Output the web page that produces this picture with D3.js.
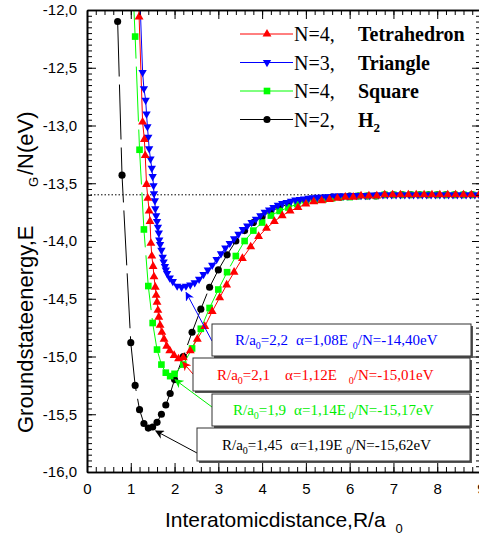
<!DOCTYPE html>
<html>
<head>
<meta charset="utf-8">
<script src="https://cdn.jsdelivr.net/npm/d3@7"></script>
<style>
  html, body { margin: 0; padding: 0; background: #fff; overflow: hidden; }
  svg { display: block; }
</style>
</head>
<body>
<svg id="chart" width="479" height="536"></svg>
<script>
// N=2, H2  [R/a0, E/N eV]
const h2Data = [
  [0.7,-12.10],[0.8,-13.43],[1.0,-14.88],[1.1,-15.25],[1.2,-15.46],[1.3,-15.58],[1.4,-15.62],
  [1.5,-15.61],[1.6,-15.57],[1.7,-15.50],[1.8,-15.42],[1.9,-15.32],[2.0,-15.20],[2.2,-15.00],
  [2.4,-14.79],[2.6,-14.59],[2.8,-14.40],[3.0,-14.25],[3.2,-14.12],[3.4,-14.00],[3.6,-13.91],
  [3.8,-13.84],[4.0,-13.79],[4.2,-13.74],[4.4,-13.71],[4.6,-13.68],[4.8,-13.66],[5.0,-13.65],
  [5.2,-13.64],[5.4,-13.63],[5.6,-13.62],[5.8,-13.62],[6.0,-13.61],[6.2,-13.61],[6.4,-13.61],
  [6.6,-13.61],[6.8,-13.60],[7.0,-13.60],[7.2,-13.60],[7.4,-13.60],[7.6,-13.60],[7.8,-13.60],
  [8.0,-13.60],[8.2,-13.60],[8.4,-13.60],[8.6,-13.60],[8.8,-13.60],[9.0,-13.60]
];

// N=4, Square
const squareData = [
  [1.0,-11.40],[1.1,-12.23],[1.2,-13.21],[1.3,-13.90],[1.4,-14.39],[1.5,-14.71],[1.6,-14.94],
  [1.7,-15.07],[1.8,-15.14],[1.9,-15.17],[2.0,-15.15],[2.2,-15.07],[2.4,-14.93],[2.6,-14.76],
  [2.8,-14.58],[3.0,-14.42],[3.2,-14.27],[3.4,-14.13],[3.6,-14.00],[3.8,-13.91],[4.0,-13.84],
  [4.2,-13.78],[4.4,-13.74],[4.6,-13.71],[4.8,-13.68],[5.0,-13.66],[5.2,-13.65],[5.4,-13.64],
  [5.6,-13.63],[5.8,-13.62],[6.0,-13.62],[6.2,-13.61],[6.4,-13.61],[6.6,-13.61],[6.8,-13.60],
  [7.0,-13.60],[7.2,-13.60],[7.4,-13.60],[7.6,-13.60],[7.8,-13.60],[8.0,-13.60],[8.2,-13.60],
  [8.4,-13.60],[8.6,-13.60],[8.8,-13.60],[9.0,-13.60]
];

// N=3, Triangle
const triangleData = [
  [1.20,-11.80],[1.27,-12.54],[1.30,-12.68],[1.34,-12.78],[1.36,-12.90],[1.38,-13.01],[1.40,-13.10],
  [1.42,-13.20],[1.45,-13.29],[1.48,-13.37],[1.50,-13.44],[1.52,-13.52],[1.53,-13.59],[1.55,-13.65],
  [1.56,-13.72],[1.58,-13.78],[1.60,-13.83],[1.62,-13.88],[1.64,-13.93],[1.65,-13.99],[1.67,-14.03],
  [1.70,-14.08],[1.73,-14.14],[1.75,-14.18],[1.78,-14.22],[1.80,-14.25],[1.83,-14.28],[1.89,-14.32],
  [1.96,-14.35],[2.06,-14.39],[2.16,-14.40],[2.26,-14.39],[2.36,-14.38],[2.46,-14.36],[2.56,-14.33],
  [2.66,-14.29],[2.76,-14.25],[2.86,-14.21],[2.96,-14.16],[3.06,-14.11],[3.16,-14.06],[3.26,-14.02],
  [3.36,-13.98],[3.46,-13.94],[3.56,-13.90],[3.66,-13.87],[3.76,-13.84],[3.86,-13.81],[3.96,-13.78],
  [4.06,-13.75],[4.16,-13.73],[4.26,-13.71],[4.36,-13.69],[4.46,-13.675],[4.56,-13.665],[4.66,-13.655],
  [4.76,-13.645],[4.86,-13.64],[4.96,-13.635],[5.06,-13.63],[5.16,-13.625],[5.26,-13.62],[5.36,-13.62],
  [5.46,-13.615],[5.56,-13.615],[5.66,-13.61],[5.76,-13.61],[5.86,-13.61],[5.96,-13.61],[6.06,-13.605],
  [6.16,-13.605],[6.26,-13.605],[6.36,-13.605],[6.46,-13.605],[6.56,-13.60],[6.66,-13.60],[6.76,-13.60],
  [6.86,-13.60],[6.96,-13.60],[7.06,-13.60],[7.16,-13.60],[7.26,-13.60],[7.36,-13.60],[7.46,-13.60],
  [7.56,-13.60],[7.66,-13.60],[7.76,-13.60],[7.86,-13.60],[7.96,-13.60],[8.06,-13.60],[8.16,-13.60],
  [8.26,-13.60],[8.36,-13.60],[8.46,-13.60],[8.56,-13.60],[8.66,-13.60],[8.76,-13.60],[8.86,-13.60],
  [8.96,-13.60]
];

// N=4, Tetrahedron
const tetraData = [
  [1.15,-11.50],[1.19,-12.06],[1.27,-12.97],[1.31,-13.12],[1.33,-13.26],[1.36,-13.51],[1.39,-13.63],
  [1.42,-13.74],[1.44,-13.83],[1.46,-14.02],[1.48,-14.13],[1.51,-14.22],[1.53,-14.31],[1.56,-14.40],
  [1.58,-14.47],[1.60,-14.53],[1.62,-14.60],[1.64,-14.66],[1.67,-14.73],[1.71,-14.79],[1.76,-14.85],
  [1.82,-14.91],[1.89,-14.95],[1.99,-14.99],[2.09,-15.02],[2.20,-15.01],[2.36,-14.95],[2.52,-14.85],
  [2.69,-14.74],[2.86,-14.61],[3.03,-14.49],[3.19,-14.38],[3.36,-14.27],[3.55,-14.15],[3.74,-14.05],
  [3.92,-13.96],[4.10,-13.89],[4.28,-13.83],[4.46,-13.78],[4.64,-13.74],[4.82,-13.71],[5.00,-13.68],
  [5.18,-13.66],[5.36,-13.65],[5.54,-13.64],[5.72,-13.63],[5.90,-13.62],[6.08,-13.62],[6.26,-13.61],
  [6.44,-13.61],[6.62,-13.61],[6.80,-13.60],[6.98,-13.60],[7.16,-13.60],[7.34,-13.60],[7.52,-13.60],
  [7.70,-13.60],[7.88,-13.60],[8.06,-13.60],[8.24,-13.60],[8.42,-13.60],[8.60,-13.60],[8.78,-13.60],
  [8.96,-13.60]
];

// legend texts
const legendN = ["N=4,", "N=3,", "N=4,", "N=2,"];
const legendName = ["Tetrahedron", "Triangle", "Square", "H"];

// minimum annotations
const annoR = ["2,2", "2,1", "1,9", "1,45"];
const annoAlpha = ["1,08", "1,12", "1,14", "1,19"];
const annoE = ["-14,40", "-15,01", "-15,17", "-15,62"];
const annoMin = [[2.2,-14.40],[2.1,-15.01],[1.9,-15.17],[1.45,-15.62]];

const dissociation = -13.6;

const xTicks = [0,1,2,3,4,5,6,7,8,9];
const yTicks = [-16,-15.5,-15,-14.5,-14,-13.5,-13,-12.5,-12];

const svg = d3.select("#chart");
const sans = "'Liberation Sans', Arial, sans-serif";
const serif = "'Liberation Serif', 'Times New Roman', serif";

const pLeft = 87, pRight = 481, pTop = 10, pBottom = 472;
const x = d3.scaleLinear().domain([0, 9]).range([pLeft, pRight]);
const y = d3.scaleLinear().domain([-16, -12]).range([pBottom, pTop]);

const defs = svg.append("defs");
defs.append("clipPath").attr("id", "plotClip")
  .append("rect").attr("x", pLeft).attr("y", pTop)
  .attr("width", pRight - pLeft).attr("height", pBottom - pTop);

// dotted dissociation limit
svg.append("line")
  .attr("x1", pLeft).attr("x2", pRight)
  .attr("y1", y(dissociation)).attr("y2", y(dissociation))
  .attr("stroke", "#000").attr("stroke-width", 1)
  .attr("stroke-dasharray", "1.5,2");

// series styles, drawn bottom to top
const series = [
  { data: h2Data, color: "#000000", symbol: d3.symbolCircle, size: 40, rot: 0, dash: "55,8" },
  { data: squareData, color: "#00ff00", symbol: d3.symbolSquare, size: 44, rot: 0, dash: "55,8" },
  { data: triangleData, color: "#0000ff", symbol: d3.symbolTriangle, size: 30, rot: 180, dash: null },
  { data: tetraData, color: "#ff0000", symbol: d3.symbolTriangle, size: 34, rot: 0, dash: null }
];

const plot = svg.append("g").attr("clip-path", "url(#plotClip)");
const line = d3.line().x(d => x(d[0])).y(d => y(d[1]));

series.forEach(s => {
  plot.append("path")
    .datum(s.data)
    .attr("d", line)
    .attr("fill", "none")
    .attr("stroke", s.color)
    .attr("stroke-width", 1)
    .attr("stroke-dasharray", s.dash);
});
series.forEach(s => {
  plot.selectAll(null)
    .data(s.data)
    .enter()
    .append("path")
    .attr("d", d3.symbol().type(s.symbol).size(s.size))
    .attr("transform", d => `translate(${x(d[0])},${y(d[1])}) rotate(${s.rot})`)
    .attr("fill", s.color);
});

// axes
const fmtY = d => d.toFixed(1).replace(".", ",");
const yMinor = d3.range(-16, -11.99, 0.05);
const xMinor = d3.range(0, 9.01, 0.2);

function styleAxis(g) {
  g.select(".domain").attr("stroke-width", 1.6);
  g.selectAll(".tick line").attr("stroke-width", 1);
  g.selectAll("text").attr("font-family", sans).attr("font-size", 15).attr("fill", "#000");
}

svg.append("g").attr("transform", `translate(${pLeft},0)`)
  .call(d3.axisLeft(y).tickValues(yMinor).tickSize(-5).tickSizeOuter(0).tickFormat(""))
  .call(styleAxis);
svg.append("g").attr("transform", `translate(${pLeft},0)`)
  .call(d3.axisLeft(y).tickValues(yTicks).tickSize(-9).tickSizeOuter(0).tickPadding(10).tickFormat(fmtY))
  .call(styleAxis);
svg.append("g").attr("transform", `translate(${pRight},0)`)
  .call(d3.axisRight(y).tickValues(yMinor).tickSize(-5).tickSizeOuter(0).tickFormat(""))
  .call(styleAxis);
svg.append("g").attr("transform", `translate(${pRight},0)`)
  .call(d3.axisRight(y).tickValues(yTicks).tickSize(-9).tickSizeOuter(0).tickFormat(""))
  .call(styleAxis);
svg.append("g").attr("transform", `translate(0,${pBottom})`)
  .call(d3.axisBottom(x).tickValues(xMinor).tickSize(-5).tickSizeOuter(0).tickFormat(""))
  .call(styleAxis);
svg.append("g").attr("transform", `translate(0,${pBottom})`)
  .call(d3.axisBottom(x).tickValues(xTicks).tickSize(-9).tickSizeOuter(0).tickPadding(11).tickFormat(d3.format("d")))
  .call(styleAxis);
svg.append("g").attr("transform", `translate(0,${pTop})`)
  .call(d3.axisTop(x).tickValues(xMinor).tickSize(-5).tickSizeOuter(0).tickFormat(""))
  .call(styleAxis);
svg.append("g").attr("transform", `translate(0,${pTop})`)
  .call(d3.axisTop(x).tickValues(xTicks).tickSize(-9).tickSizeOuter(0).tickFormat(""))
  .call(styleAxis);

// axis titles
const xTitle = svg.append("text")
  .attr("x", 165).attr("y", 527)
  .attr("font-family", sans).attr("font-size", 21);
xTitle.append("tspan").text("Interatomicdistance,R/a");
xTitle.append("tspan").attr("dx", 10).attr("dy", 6).attr("font-size", 13).text("0");

svg.append("text")
  .attr("transform", "translate(33,433) rotate(-90)")
  .attr("font-family", sans).attr("font-size", 22)
  .text("Groundstateenergy,E");
svg.append("text")
  .attr("transform", "translate(38,187) rotate(-90)")
  .attr("font-family", sans).attr("font-size", 13)
  .text("G");
svg.append("text")
  .attr("transform", "translate(33,175) rotate(-90)")
  .attr("font-family", sans).attr("font-size", 22)
  .text("/N(eV)");

// legend (order: tetrahedron, triangle, square, H2)
const legendOrder = [3, 2, 1, 0];
const legend = svg.append("g");
legendOrder.forEach((si, i) => {
  const s = series[si];
  const ly = 34 + i * 28.5;
  legend.append("line")
    .attr("x1", 240).attr("x2", 293).attr("y1", ly).attr("y2", ly)
    .attr("stroke", s.color).attr("stroke-width", 1);
  legend.append("path")
    .attr("d", d3.symbol().type(s.symbol).size(s.size))
    .attr("transform", `translate(267,${ly}) rotate(${s.rot})`)
    .attr("fill", s.color);
  legend.append("text")
    .attr("x", 294).attr("y", ly + 7)
    .attr("font-family", serif).attr("font-size", 20)
    .text(legendN[i]);
  const nm = legend.append("text")
    .attr("x", 358).attr("y", ly + 7)
    .attr("font-family", serif).attr("font-size", 20).attr("font-weight", "bold");
  nm.append("tspan").text(legendName[i]);
  if (i === 3) nm.append("tspan").attr("dy", 5).attr("font-size", 13).text("2");
});

// annotation boxes: blue, red, green, black
const annoColor = ["#0000ff", "#ff0000", "#00ee00", "#000000"];
const boxes = [
  { x: 212, y: 324, w: 259, h: 32, tx: 235, gap1: 8, gap2: 5, arrowY: 341 },
  { x: 193, y: 358, w: 277, h: 33, tx: 217, gap1: 15, gap2: 12, arrowY: 374 },
  { x: 212, y: 394, w: 258, h: 32, tx: 233, gap1: 8, gap2: 3, arrowY: 407 },
  { x: 197, y: 428, w: 273, h: 33, tx: 222, gap1: 8, gap2: 4, arrowY: 453 }
];

annoColor.forEach((c, i) => {
  defs.append("marker")
    .attr("id", "ah" + i)
    .attr("viewBox", "0 0 10 10").attr("refX", 9).attr("refY", 5)
    .attr("markerWidth", 9).attr("markerHeight", 9)
    .attr("markerUnits", "userSpaceOnUse")
    .attr("orient", "auto")
    .append("path").attr("d", "M0,0 L10,5 L0,10 L3,5 Z").attr("fill", c);
});

boxes.forEach((b, i) => {
  // arrow toward the minimum, stopping short of the point
  const px = x(annoMin[i][0]), py = y(annoMin[i][1]);
  const dx = px - b.x, dy = py - b.arrowY;
  const len = Math.hypot(dx, dy);
  const ex = b.x + dx * (len - 6) / len, ey = b.arrowY + dy * (len - 6) / len;
  svg.append("line")
    .attr("x1", b.x).attr("y1", b.arrowY).attr("x2", ex).attr("y2", ey)
    .attr("stroke", annoColor[i]).attr("stroke-width", 1)
    .attr("marker-end", `url(#ah${i})`);

  svg.append("rect")
    .attr("x", b.x + 2).attr("y", b.y + 2).attr("width", b.w).attr("height", b.h)
    .attr("fill", "#555");
  svg.append("rect")
    .attr("x", b.x).attr("y", b.y).attr("width", b.w).attr("height", b.h)
    .attr("fill", "#fff").attr("stroke", "#333").attr("stroke-width", 1);

  const t = svg.append("text")
    .attr("x", b.tx).attr("y", b.y + b.h / 2 + 5)
    .attr("font-family", serif).attr("font-size", 15)
    .attr("fill", annoColor[i]);
  t.append("tspan").text("R/a");
  t.append("tspan").attr("dy", 4).attr("font-size", 10).text("0");
  t.append("tspan").attr("dy", -4).text("=" + annoR[i]);
  t.append("tspan").attr("dx", b.gap1).text("\u03b1=" + annoAlpha[i] + "E");
  t.append("tspan").attr("dx", b.gap2).attr("dy", 4).attr("font-size", 10).text("0");
  t.append("tspan").attr("dy", -4).text("/N=" + annoE[i] + "eV");
});
</script>
</body>
</html>
